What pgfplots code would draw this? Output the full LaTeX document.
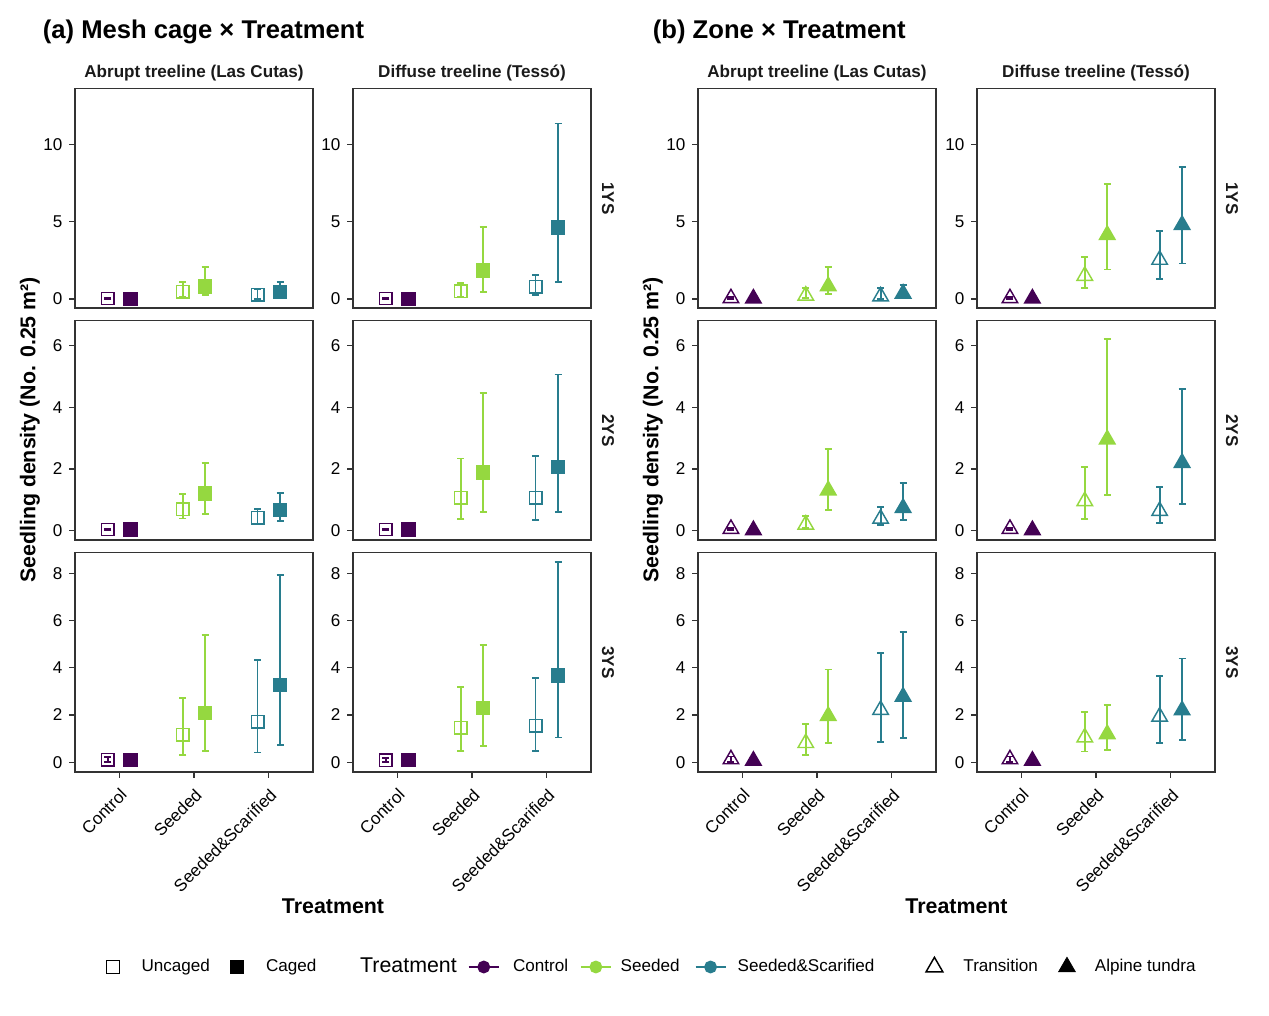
\documentclass[border=0pt]{standalone}
\usepackage{pgfplots}
\pgfplotsset{compat=1.18}
\usepackage{pgfplotstable}
\usepackage{fontspec}
\setmainfont{Liberation Sans}
\definecolor{cC}{HTML}{440154}
\definecolor{cS}{HTML}{95D840}
\definecolor{cX}{HTML}{287D8E}
\definecolor{g20}{HTML}{333333}
\definecolor{g10}{HTML}{1A1A1A}

% columns: treatment index, uncaged/transition (u) mean, lower, upper; caged/alpine (c) mean, lower, upper
\pgfplotstableread{
x u ulo uhi c clo chi
1 0.03 0.00 0.06 0.00 0.00 0.00
2 0.46 0.13 1.10 0.82 0.24 2.08
3 0.28 0.02 0.63 0.45 0.13 1.08
}\aLi
\pgfplotstableread{
x u ulo uhi c clo chi
1 0.03 0.00 0.06 0.00 0.00 0.00
2 0.50 0.13 1.02 1.84 0.46 4.66
3 0.78 0.28 1.54 4.64 1.08 11.37
}\aRi
\pgfplotstableread{
x u ulo uhi c clo chi
1 0.04 0.02 0.06 0.04 0.04 0.04
2 0.70 0.40 1.19 1.20 0.54 2.19
3 0.42 0.22 0.71 0.67 0.31 1.23
}\aLii
\pgfplotstableread{
x u ulo uhi c clo chi
1 0.04 0.02 0.06 0.04 0.04 0.04
2 1.07 0.38 2.34 1.89 0.60 4.47
3 1.07 0.36 2.42 2.06 0.60 5.06
}\aRii
\pgfplotstableread{
x u ulo uhi c clo chi
1 0.10 0.00 0.21 0.08 0.08 0.08
2 1.16 0.30 2.71 2.09 0.47 5.41
3 1.72 0.41 4.33 3.27 0.73 7.93
}\aLiii
\pgfplotstableread{
x u ulo uhi c clo chi
1 0.08 0.01 0.16 0.08 0.08 0.08
2 1.46 0.47 3.19 2.30 0.69 4.98
3 1.55 0.47 3.58 3.67 1.05 8.51
}\aRiii
\pgfplotstableread{
x u ulo uhi c clo chi
1 0.05 0.00 0.12 0.03 0.03 0.03
2 0.22 0.08 0.70 0.83 0.30 2.06
3 0.17 0.02 0.70 0.35 0.20 0.89
}\bLi
\pgfplotstableread{
x u ulo uhi c clo chi
1 0.05 0.00 0.12 0.03 0.03 0.03
2 1.50 0.72 2.71 4.15 1.91 7.44
3 2.54 1.28 4.40 4.80 2.30 8.55
}\bRi
\pgfplotstableread{
x u ulo uhi c clo chi
1 0.06 0.03 0.10 0.02 0.02 0.02
2 0.20 0.10 0.47 1.31 0.67 2.64
3 0.39 0.18 0.76 0.74 0.36 1.55
}\bLii
\pgfplotstableread{
x u ulo uhi c clo chi
1 0.06 0.03 0.10 0.02 0.02 0.02
2 0.96 0.38 2.06 2.96 1.17 6.22
3 0.64 0.26 1.41 2.20 0.86 4.58
}\bRii
\pgfplotstableread{
x u ulo uhi c clo chi
1 0.12 0.02 0.24 0.06 0.06 0.06
2 0.81 0.31 1.63 1.96 0.80 3.93
3 2.22 0.86 4.62 2.78 1.03 5.54
}\bLiii
\pgfplotstableread{
x u ulo uhi c clo chi
1 0.12 0.02 0.24 0.06 0.06 0.06
2 1.05 0.45 2.13 1.19 0.52 2.42
3 1.93 0.80 3.65 2.20 0.95 4.40
}\bRiii

\tikzset{markimg/.style={}, lineimg/.style={}}
\pgfplotsset{
  panel/.style={scale only axis, width=122.57pt, height=113.04pt, anchor=south west,
    xmin=0.41, xmax=3.59, clip=false, tick align=outside, tick pos=left,
    major tick length=3pt,
    axis line style={g20, line width=0.6pt},
    tick style={g20, line width=0.6pt},
    yticklabel style={font=\fontsize{8.8}{10}\selectfont, black},
    xticklabel style={font=\fontsize{8.8}{10}\selectfont, black, rotate=45, anchor=north east},
    /pgf/number format/assume math mode=true},
  r1/.style={ymin=-0.584, ymax=13.636, ytick={0,5,10}, xtick=\empty},
  r2/.style={ymin=-0.30, ymax=6.81, ytick={0,2,4,6}, xtick=\empty},
  r3/.style={ymin=-0.42, ymax=8.9, ytick={0,2,4,6,8}, xtick={1,2,3},
    xticklabels={Control,Seeded,Seeded\&Scarified}},
  opena/.style={mark=square, mark size=3.2pt},
  filla/.style={mark=square*, mark size=3.35pt},
  openb/.style={mark=triangle, mark size=4.6pt},
  fillb/.style={mark=triangle*, mark size=4.6pt},
  markimg/.style={legend image code/.code={\path[draw=none, fill=none] (-5pt,-5pt) rectangle (#1,5pt); \draw[##1] plot coordinates {(0pt,0pt)};}},
  lineimg/.style={legend image code/.code={\path[draw=none, fill=none] (0pt,-5pt) rectangle (#1,5pt); \draw[##1, mark=none] (0pt,0pt) -- (15.5pt,0pt); \draw[##1] plot[only marks] coordinates {(7.75pt,0pt)};}},
}

\newcommand{\ser}[6]{%
  \addplot[only marks, color=#3, #4, mark options={solid, line width=0.75pt, fill=#3},
    restrict expr to domain={\coordindex}{#2:#2},
    error bars/.cd, y dir=both, y explicit,
    error bar style={line width=0.9pt, color=#3},
    error mark options={rotate=90, line width=0.9pt, mark size=1.8pt, color=#3}]
  table[x expr=\thisrow{x}#6, y=#5,
    y error plus expr=\thisrow{#5hi}-\thisrow{#5},
    y error minus expr=\thisrow{#5}-\thisrow{#5lo}] {#1};
}
\newcommand{\panel}[5]{%
  \begin{axis}[panel, #3, at={({#1*0.515pt},{-#2*0.515pt})}]
    \ser{#4}{0}{cC}{open#5}{u}{-0.15}
    \ser{#4}{0}{cC}{fill#5}{c}{+0.15}
    \ser{#4}{1}{cS}{open#5}{u}{-0.15}
    \ser{#4}{1}{cS}{fill#5}{c}{+0.15}
    \ser{#4}{2}{cX}{open#5}{u}{-0.15}
    \ser{#4}{2}{cX}{fill#5}{c}{+0.15}
  \end{axis}}

\begin{document}
\begin{tikzpicture}
\begin{scope}[x=0.515pt, y=-0.515pt]
  \useasboundingbox (0,0) rectangle (1269,1015);
  \node[anchor=base west, font=\fontsize{13.2}{15}\selectfont\bfseries] at (36,39) {(a) Mesh cage × Treatment};
  \node[anchor=base west, font=\fontsize{13.2}{15}\selectfont\bfseries] at (646,39) {(b) Zone × Treatment};
  \foreach \cx/\txt in {194/Abrupt treeline (Las Cutas), 472/Diffuse treeline (Tessó), 817/Abrupt treeline (Las Cutas), 1096/Diffuse treeline (Tessó)}
    \node[anchor=base, font=\fontsize{8.8}{10}\selectfont\bfseries, text=g10] at (\cx,78) {\txt};
  \foreach \sx in {608,1232}{
    \node[rotate=-90, font=\fontsize{8.8}{10}\selectfont\bfseries, text=g10] at (\sx,198.25) {1YS};
    \node[rotate=-90, font=\fontsize{8.8}{10}\selectfont\bfseries, text=g10] at (\sx,430.25) {2YS};
    \node[rotate=-90, font=\fontsize{8.8}{10}\selectfont\bfseries, text=g10] at (\sx,662.25) {3YS};
  }
  \node[rotate=90, font=\fontsize{11}{13}\selectfont\bfseries] at (30,430) {Seedling density (No. 0.25 m²)};
  \node[rotate=90, font=\fontsize{11}{13}\selectfont\bfseries] at (653,430) {Seedling density (No. 0.25 m²)};
  \node[anchor=base, font=\fontsize{11}{13}\selectfont\bfseries] at (333,913) {Treatment};
  \node[anchor=base, font=\fontsize{11}{13}\selectfont\bfseries] at (956.5,913) {Treatment};
\end{scope}

\panel{75}{308}{r1}{\aLi}{a}
\panel{353}{308}{r1}{\aRi}{a}
\panel{698}{308}{r1}{\bLi}{b}
\panel{977}{308}{r1}{\bRi}{b}
\panel{75}{540}{r2}{\aLii}{a}
\panel{353}{540}{r2}{\aRii}{a}
\panel{698}{540}{r2}{\bLii}{b}
\panel{977}{540}{r2}{\bRii}{b}
\panel{75}{772}{r3}{\aLiii}{a}
\panel{353}{772}{r3}{\aRiii}{a}
\panel{698}{772}{r3}{\bLiii}{b}
\panel{977}{772}{r3}{\bRiii}{b}

\begin{axis}[at={(0pt,-522.725pt)}, anchor=south west, scale only axis,
  width=653.535pt, height=522.725pt, hide axis, xmin=0, xmax=1, ymin=0, ymax=1,
  legend columns=-1,
  legend style={at={(0.0814,0.0473)}, anchor=west, draw=none, fill=none,
    inner sep=0pt, outer sep=0pt, column sep=0pt,
    nodes={inner sep=0pt, outer sep=0pt},
    font=\fontsize{8.8}{10}\selectfont}]
  \addlegendimage{only marks, black, mark=square, mark size=3.3pt, mark options={line width=0.75pt}, markimg=14.73pt}
  \addlegendentry{Uncaged\hspace*{8.91pt}}
  \addlegendimage{only marks, black, mark=square*, mark size=3.3pt, markimg=14.94pt}
  \addlegendentry{Caged\hspace*{22.56pt}}
  \addlegendimage{empty legend}
  \addlegendentry{\fontsize{11}{13}\selectfont Treatment\hspace*{5.67pt}}
  \addlegendimage{cC, line width=1pt, mark=*, mark size=2.8pt, lineimg=22.86pt}
  \addlegendentry{Control\hspace*{6.0pt}}
  \addlegendimage{cS, line width=1pt, mark=*, mark size=2.8pt, lineimg=20.5pt}
  \addlegendentry{Seeded\hspace*{7.73pt}}
  \addlegendimage{cX, line width=1pt, mark=*, mark size=2.8pt, lineimg=21.7pt}
  \addlegendentry{Seeded\&Scarified\hspace*{25.9pt}}
  \addlegendimage{only marks, black, mark=triangle, mark size=5pt, mark options={line width=0.75pt}, markimg=14.94pt}
  \addlegendentry{Transition\hspace*{10.0pt}}
  \addlegendimage{only marks, black, mark=triangle*, mark size=5pt, markimg=14.42pt}
  \addlegendentry{Alpine tundra}
\end{axis}
\end{tikzpicture}
\end{document}
